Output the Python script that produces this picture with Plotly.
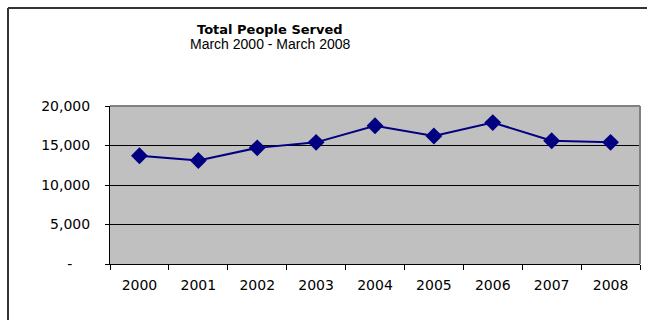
import plotly.graph_objects as go

# Annual totals, March of each year
years = ["2000", "2001", "2002", "2003", "2004", "2005", "2006", "2007", "2008"]
people_served = [13700, 13100, 14700, 15400, 17500, 16200, 17900, 15600, 15400]

y_tickvals = [0, 5000, 10000, 15000, 20000]
y_ticktext = ["-\u00a0\u00a0\u00a0\u00a0", "5,000", "10,000", "15,000", "20,000"]

W, H = 647, 320
L, R, T, B = 110, 7, 106, 56
plot_w = W - L - R
plot_h = H - T - B

def px_x(px):
    return (px - L) / plot_w

def px_y(py):
    return (H - B - py) / plot_h

navy = "#000080"
tick_font = dict(family="DejaVu Sans", size=14, color="#000000")

fig = go.Figure()
fig.add_trace(go.Scatter(
    x=years, y=people_served, mode="lines+markers",
    line=dict(color=navy, width=2),
    marker=dict(symbol="diamond", size=13, color=navy),
    hoverinfo="skip", showlegend=False,
))

fig.update_layout(
    width=W, height=H,
    margin=dict(l=L, r=R, t=T, b=B, pad=0),
    paper_bgcolor="#FFFFFF",
    plot_bgcolor="#C0C0C0",
    showlegend=False,
    xaxis=dict(
        type="category", range=[-0.5, 8.5],
        showline=True, linecolor="#000000", linewidth=1,
        ticks="outside", tickson="boundaries", ticklen=5, tickcolor="#000000",
        showgrid=False, tickfont=tick_font, ticklabelstandoff=8,
        fixedrange=True,
    ),
    yaxis=dict(
        range=[0, 20000], tickvals=y_tickvals, ticktext=y_ticktext,
        showline=True, linecolor="#000000", linewidth=1,
        ticks="outside", ticklen=4, tickcolor="#000000",
        showgrid=True, gridcolor="#000000", gridwidth=1, zeroline=False,
        tickfont=tick_font, ticklabelstandoff=12,
        fixedrange=True,
    ),
    annotations=[
        dict(text="<b>Total People Served</b>", xref="paper", yref="paper",
             x=px_x(270), y=px_y(29), xanchor="center", yanchor="middle",
             showarrow=False,
             font=dict(family="DejaVu Sans", size=13, color="#000000")),
        dict(text="March 2000 - March 2008", xref="paper", yref="paper",
             x=px_x(270), y=px_y(44), xanchor="center", yanchor="middle",
             showarrow=False,
             font=dict(family="Liberation Sans", size=14, color="#000000")),
    ],
    shapes=[
        # gray frame on the top and right of the plot area
        dict(type="line", xref="x domain", yref="y domain", x0=0, x1=1, y0=1, y1=1,
             line=dict(color="#808080", width=2), layer="above"),
        dict(type="line", xref="x domain", yref="y domain", x0=1, x1=1, y0=0, y1=1,
             line=dict(color="#808080", width=2), layer="above"),
        # outer chart border (left and top)
        dict(type="line", xref="paper", yref="paper",
             x0=px_x(8), x1=px_x(8), y0=px_y(8), y1=px_y(H + 5),
             line=dict(color="#333333", width=2), layer="above"),
        dict(type="line", xref="paper", yref="paper",
             x0=px_x(8), x1=px_x(W + 5), y0=px_y(8), y1=px_y(8),
             line=dict(color="#333333", width=2), layer="above"),
    ],
)

fig.write_html("out.html")
